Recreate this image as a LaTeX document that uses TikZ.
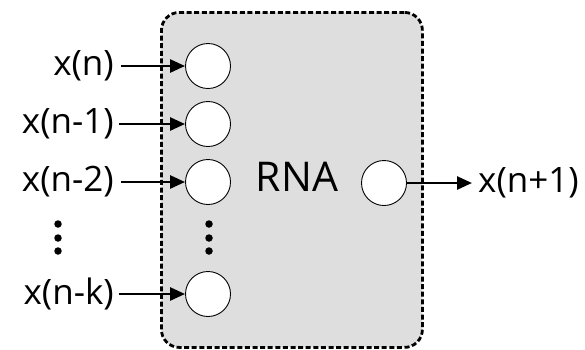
\documentclass[tikz,border=0pt]{standalone}
\usepackage{fontspec}
\setmainfont{Open Sans}
\usetikzlibrary{arrows.meta}
\begin{document}
\begin{tikzpicture}[x=1pt,y=-1pt,
  neuron/.style={circle,draw,line width=0.9pt,fill=white,minimum size=45pt,inner sep=0pt},
  lbl/.style={font=\fontsize{35}{35}\selectfont,inner sep=0pt},
  conn/.style={line width=2.6pt,-{Triangle[length=15pt,width=13pt]}},
  dotmark/.style={circle,fill=black,minimum size=7.5pt,inner sep=0pt},
  netbox/.style={draw,fill=black!13,line width=2.8pt,dash pattern=on 5pt off 2.6pt,rounded corners=18pt}]
\useasboundingbox (0,0) rectangle (585,349);
\node[netbox,minimum width=261pt,minimum height=335pt,anchor=north west] (box) at (160,11) {};
\node[neuron] (in1) at (208,66) {};
\node[neuron] (in2) at (208,124) {};
\node[neuron] (in3) at (208,182) {};
\node[neuron] (ink) at (208,294) {};
\node[neuron] (out) at (384,183) {};
\node[font=\fontsize{41}{41}\selectfont,inner sep=0pt] (rna) at (297,177) {RNA};
\node[lbl,anchor=east] (l1) at (114,66) {x(n)};
\node[lbl,anchor=east] (l2) at (114,124) {x(n-1)};
\node[lbl,anchor=east] (l3) at (114,182) {x(n-2)};
\node[lbl,anchor=east] (lk) at (114,294) {x(n-k)};
\node[lbl,anchor=west] (lo) at (478,183) {x(n+1)};
\draw[conn] (l1.east) ++(7,0) -- (in1.west);
\draw[conn] (l2.east) ++(5,0) -- (in2.west);
\draw[conn] (l3.east) ++(7,0) -- (in3.west);
\draw[conn] (lk.east) ++(5,0) -- (ink.west);
\draw[conn] (out.east) -- ([xshift=-6pt]lo.west);
\foreach \yy in {224,238,251} {
  \node[dotmark] at (58,\yy) {};
  \node[dotmark] at (209,\yy) {};
}
\end{tikzpicture}
\end{document}
